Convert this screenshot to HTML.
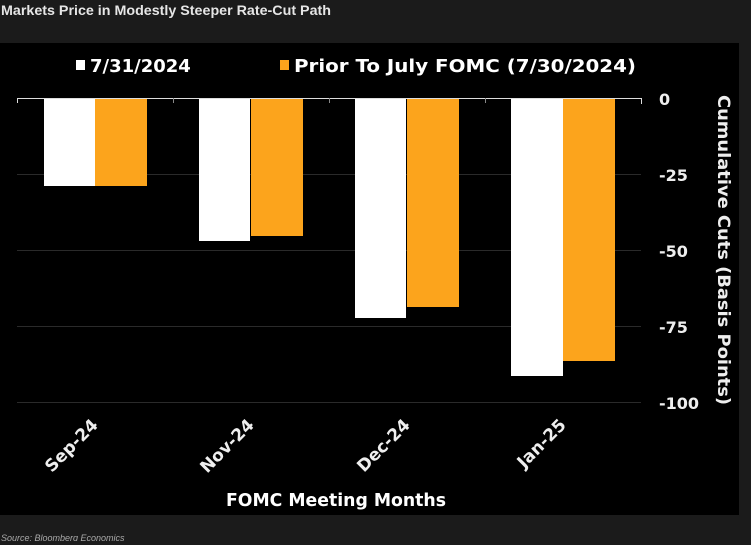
<!DOCTYPE html>
<html><head><style>
body{margin:0;width:751px;height:541px;background:#1b1b1b;overflow:hidden;font-family:"DejaVu Sans","Liberation Sans",sans-serif}
</style></head><body>
<svg width="751" height="541" xmlns="http://www.w3.org/2000/svg">
<rect width="751" height="541" fill="#1b1b1b"/>
<text x="1" y="15" fill="#e6e6e6" font-family="Liberation Sans, sans-serif" font-weight="bold" font-size="14" textLength="330" lengthAdjust="spacingAndGlyphs">Markets Price in Modestly Steeper Rate-Cut Path</text>
<rect x="0" y="43" width="739" height="472" fill="#000"/>
<!-- legend -->
<rect x="76" y="60" width="9" height="10" fill="#fff"/>
<text x="90" y="72" fill="#fff" font-weight="bold" font-size="18">7/31/2024</text>
<rect x="280" y="60" width="9" height="10" fill="#fca41c"/>
<text x="294" y="72" fill="#fff" font-weight="bold" font-size="18" textLength="342" lengthAdjust="spacingAndGlyphs">Prior To July FOMC (7/30/2024)</text>
<!-- grid -->
<g stroke="#2a2a2a" stroke-width="1">
<line x1="17" y1="174.5" x2="641" y2="174.5"/>
<line x1="17" y1="250.5" x2="641" y2="250.5"/>
<line x1="17" y1="326.5" x2="641" y2="326.5"/>
<line x1="17" y1="402.5" x2="641" y2="402.5"/>
</g>
<!-- bars -->
<rect x="44" y="98" width="51" height="88" fill="#fff"/>
<rect x="95" y="98" width="52" height="88" fill="#fca41c"/>
<rect x="199" y="98" width="51" height="143" fill="#fff"/>
<rect x="251" y="98" width="52" height="138" fill="#fca41c"/>
<rect x="355" y="98" width="51" height="220" fill="#fff"/>
<rect x="407" y="98" width="52" height="209" fill="#fca41c"/>
<rect x="511" y="98" width="52" height="278" fill="#fff"/>
<rect x="563" y="98" width="52" height="263" fill="#fca41c"/>
<!-- axis -->
<path d="M17.5 103V98.5H641.5V104" stroke="#ddd" fill="none"/>
<g stroke="#888"><line x1="173.5" y1="98" x2="173.5" y2="103"/><line x1="329.5" y1="98" x2="329.5" y2="103"/><line x1="485.5" y1="98" x2="485.5" y2="103"/></g>
<!-- ticks -->
<g fill="#eee" font-weight="bold" font-size="16">
<text x="659" y="105">0</text>
<text x="659" y="181">-25</text>
<text x="659" y="257">-50</text>
<text x="659" y="333">-75</text>
<text x="659" y="409">-100</text>
</g>
<text transform="translate(718,250) rotate(90)" text-anchor="middle" fill="#eee" font-weight="bold" font-size="17" textLength="310" lengthAdjust="spacingAndGlyphs">Cumulative Cuts (Basis Points)</text>
<!-- x labels -->
<g fill="#eee" font-weight="bold" font-size="17" text-anchor="end">
<text transform="translate(99,426) rotate(-45)">Sep-24</text>
<text transform="translate(255,426) rotate(-45)">Nov-24</text>
<text transform="translate(411,426) rotate(-45)">Dec-24</text>
<text transform="translate(567,426) rotate(-45)">Jan-25</text>
</g>
<text x="336" y="506" text-anchor="middle" fill="#fff" font-weight="bold" font-size="18" textLength="220" lengthAdjust="spacingAndGlyphs">FOMC Meeting Months</text>
<text x="1" y="541" fill="#aaa" font-family="Liberation Sans, sans-serif" font-size="9" font-style="italic">Source: Bloomberg Economics</text>
</svg>
</body></html>
